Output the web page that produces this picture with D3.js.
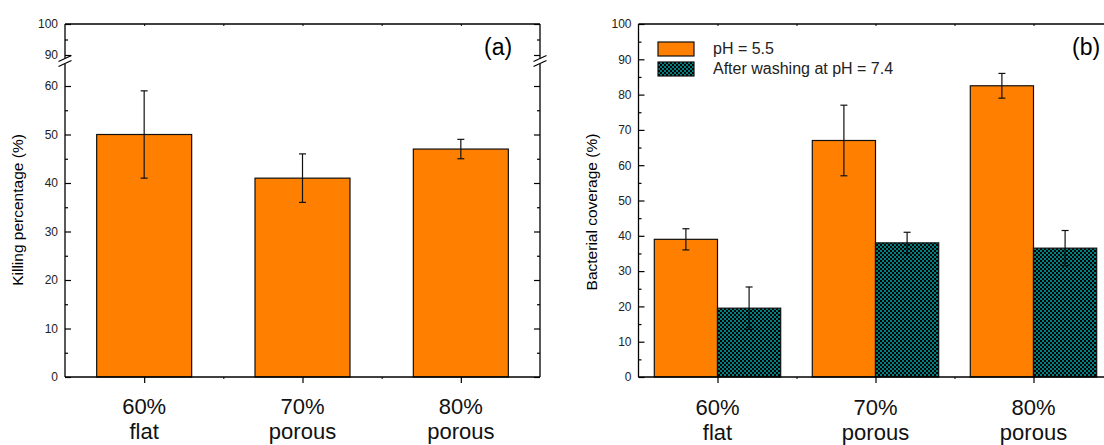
<!DOCTYPE html>
<html>
<head>
<meta charset="utf-8">
<script src="https://cdn.jsdelivr.net/npm/d3@7"></script>
<style>
  body { margin: 0; background: #fff; }
  svg { display: block; font-family: Arial, 'Liberation Sans', sans-serif; }
</style>
</head>
<body>
<svg id="chart" width="1104" height="445"></svg>
<script>
const categories = [['60%', 'flat'], ['70%', 'porous'], ['80%', 'porous']];

// panel (a)
const killing = [50, 41, 47];
const killingErr = [9, 5, 2];
const killTicksLow = [0, 10, 20, 30, 40, 50, 60];
const killTicksHigh = [90, 100];

// panel (b)
const seriesNames = ['pH = 5.5', 'After washing at pH = 7.4'];
const coverageAcid = [39, 67, 82.5];
const coverageAcidErr = [3, 10, 3.5];
const coverageWashed = [19.5, 38, 36.5];
const coverageWashedErr = [6, 3, 5];
const coverageTicks = d3.range(0, 101, 10);

const ORANGE = '#ff8000';
const TOP = 24;
const BOTTOM = 377;

const svg = d3.select('#chart');

// checker fill for washed bars
const pat = svg.append('defs').append('pattern')
  .attr('id', 'checker')
  .attr('patternUnits', 'userSpaceOnUse')
  .attr('width', 4).attr('height', 4);
pat.append('rect').attr('width', 4).attr('height', 4).attr('fill', '#008080');
pat.append('rect').attr('width', 2).attr('height', 2).attr('fill', '#000');
pat.append('rect').attr('x', 2).attr('y', 2).attr('width', 2).attr('height', 2).attr('fill', '#000');

function line(g, x1, y1, x2, y2, w) {
  g.append('line')
    .attr('x1', x1).attr('y1', y1).attr('x2', x2).attr('y2', y2)
    .attr('stroke', '#000').attr('stroke-width', w || 1.3);
}

// inward ticks on left and mirrored on right
function yAxes(g, scale, majors, minors, x0, x1) {
  g.append('g')
    .attr('transform', `translate(${x0},0)`)
    .call(d3.axisLeft(scale).tickValues(majors).tickSize(-6).tickSizeOuter(0).tickPadding(7))
    .call((a) => a.select('.domain').remove())
    .call((a) => a.selectAll('text').attr('font-size', 12).attr('fill', '#222'));
  g.append('g')
    .attr('transform', `translate(${x0},0)`)
    .call(d3.axisLeft(scale).tickValues(minors).tickSize(-3).tickSizeOuter(0).tickFormat(''))
    .call((a) => a.select('.domain').remove());
  g.append('g')
    .attr('transform', `translate(${x1},0)`)
    .call(d3.axisRight(scale).tickValues(majors).tickSize(-6).tickSizeOuter(0).tickFormat(''))
    .call((a) => a.select('.domain').remove());
  g.append('g')
    .attr('transform', `translate(${x1},0)`)
    .call(d3.axisRight(scale).tickValues(minors).tickSize(-3).tickSizeOuter(0).tickFormat(''))
    .call((a) => a.select('.domain').remove());
  g.selectAll('.tick line').attr('stroke-width', 1.2);
}

function xAxis(g, x, base) {
  g.append('g')
    .attr('transform', `translate(0,${BOTTOM})`)
    .call(d3.axisBottom(x).tickValues([1, 2, 3]).tickSize(6).tickSizeOuter(0).tickFormat(''))
    .call((a) => a.select('.domain').remove())
    .selectAll('line').attr('stroke-width', 1.2);
  g.append('g')
    .attr('transform', `translate(0,${BOTTOM})`)
    .call(d3.axisBottom(x).tickValues([1.5, 2.5]).tickSize(2).tickSizeOuter(0).tickFormat(''))
    .call((a) => a.select('.domain').remove());
  g.append('g')
    .attr('transform', `translate(0,${TOP})`)
    .call(d3.axisBottom(x).tickValues([1, 1.5, 2, 2.5, 3]).tickSize(2).tickSizeOuter(0).tickFormat(''))
    .call((a) => a.select('.domain').remove());
  const lab = g.append('g').selectAll('text').data(categories).join('text')
    .attr('x', (d, i) => x(i + 1))
    .attr('text-anchor', 'middle')
    .attr('font-size', 22)
    .attr('fill', '#111');
  lab.append('tspan').attr('x', (d, i) => x(i + 1)).attr('y', base).text((d) => d[0]);
  lab.append('tspan').attr('x', (d, i) => x(i + 1)).attr('y', base + 25).text((d) => d[1]);
}

function bars(g, x, y, vals, errs, offset, width, fill) {
  const bw = x(width) - x(0);
  g.append('g').selectAll('rect').data(vals).join('rect')
    .attr('x', (d, i) => x(i + 1 + offset))
    .attr('y', (d) => y(d))
    .attr('width', bw)
    .attr('height', (d) => y(0) - y(d))
    .attr('fill', fill)
    .attr('stroke', '#111')
    .attr('stroke-width', 1.2);
  const eb = g.append('g').selectAll('g').data(vals).join('g')
    .attr('stroke', '#111').attr('stroke-width', 1.2);
  const cx = (i) => x(i + 1 + offset + width / 2);
  eb.append('line')
    .attr('x1', (d, i) => cx(i)).attr('x2', (d, i) => cx(i))
    .attr('y1', (d, i) => y(d + errs[i])).attr('y2', (d, i) => y(d - errs[i]));
  eb.append('line')
    .attr('x1', (d, i) => cx(i) - 3.5).attr('x2', (d, i) => cx(i) + 3.5)
    .attr('y1', (d, i) => y(d + errs[i])).attr('y2', (d, i) => y(d + errs[i]));
  eb.append('line')
    .attr('x1', (d, i) => cx(i) - 3.5).attr('x2', (d, i) => cx(i) + 3.5)
    .attr('y1', (d, i) => y(d - errs[i])).attr('y2', (d, i) => y(d - errs[i]));
}

// ---------- panel (a) ----------
{
  const g = svg.append('g');
  const x = d3.scaleLinear().domain([0.5, 3.5]).range([65, 540]);
  const yLow = d3.scaleLinear().domain([0, 60]).range([BOTTOM, 86]);
  const yHigh = d3.scaleLinear().domain([90, 100]).range([55, TOP]);

  bars(g, x, yLow, killing, killingErr, -0.3, 0.6, ORANGE);

  yAxes(g, yLow, killTicksLow, d3.range(5, 60, 10), 65, 540);
  yAxes(g, yHigh, killTicksHigh, [95], 65, 540);

  // frame with break between 60 and 90
  [65, 540].forEach((xx) => {
    line(g, xx, TOP, xx, 58.5);
    line(g, xx, 64, xx, BOTTOM);
    line(g, xx - 6.5, 61.5, xx + 6.5, 55.5, 1.2);
    line(g, xx - 6.5, 66.5, xx + 6.5, 60.5, 1.2);
  });
  line(g, 65, TOP, 540, TOP);
  line(g, 65, BOTTOM, 540, BOTTOM);

  xAxis(g, x, 414);

  g.append('text').attr('x', 484).attr('y', 55).attr('font-size', 23).text('(a)');
  g.append('text')
    .attr('transform', 'translate(23,210) rotate(-90)')
    .attr('text-anchor', 'middle').attr('font-size', 15.5)
    .text('Killing percentage (%)');
}

// ---------- panel (b) ----------
{
  const g = svg.append('g');
  const x = d3.scaleLinear().domain([0.5, 3.5]).range([638.5, 1112.5]);
  const y = d3.scaleLinear().domain([0, 100]).range([BOTTOM, TOP]);

  bars(g, x, y, coverageAcid, coverageAcidErr, -0.4, 0.4, ORANGE);
  bars(g, x, y, coverageWashed, coverageWashedErr, 0, 0.4, 'url(#checker)');

  yAxes(g, y, coverageTicks, d3.range(5, 100, 10), 638.5, 1112.5);
  line(g, 638.5, TOP, 638.5, BOTTOM);
  line(g, 1112.5, TOP, 1112.5, BOTTOM);
  line(g, 638.5, TOP, 1112.5, TOP);
  line(g, 638.5, BOTTOM, 1112.5, BOTTOM);

  xAxis(g, x, 415);

  const fills = [ORANGE, 'url(#checker)'];
  const leg = g.append('g').selectAll('g').data(seriesNames).join('g')
    .attr('transform', (d, i) => `translate(658,${42 + i * 20})`);
  leg.append('rect').attr('width', 36).attr('height', 14)
    .attr('fill', (d, i) => fills[i]).attr('stroke', '#111').attr('stroke-width', 1.2);
  leg.append('text').attr('x', 55).attr('y', 12).attr('font-size', 16).attr('fill', '#222')
    .text((d) => d);

  g.append('text').attr('x', 1072).attr('y', 55).attr('font-size', 23).text('(b)');
  g.append('text')
    .attr('transform', 'translate(597,212) rotate(-90)')
    .attr('text-anchor', 'middle').attr('font-size', 15.5)
    .text('Bacterial coverage (%)');
}
</script>
</body>
</html>
